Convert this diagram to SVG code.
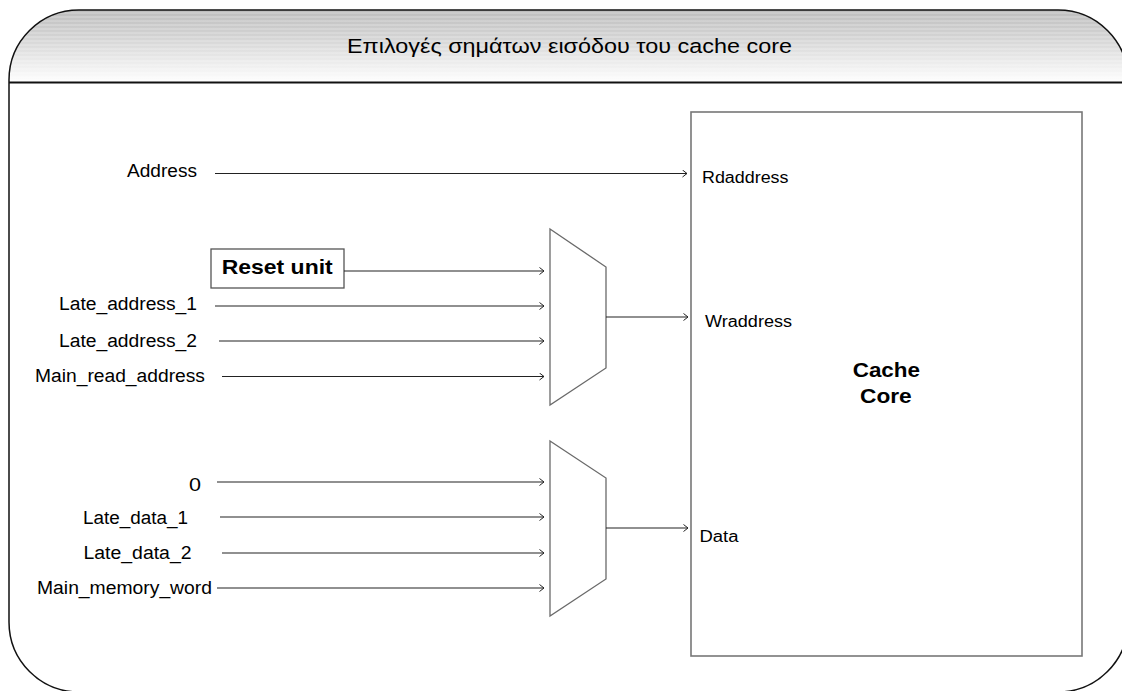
<svg xmlns="http://www.w3.org/2000/svg" width="1122" height="691" viewBox="0 0 1122 691">
  <defs>
    <linearGradient id="bandFill" x1="0" y1="0" x2="0" y2="1">
      <stop offset="0" stop-color="#bdbdbd"/>
      <stop offset="0.35" stop-color="#d2d2d2"/>
      <stop offset="0.7" stop-color="#eaeaea"/>
      <stop offset="1" stop-color="#fefefe"/>
    </linearGradient>
    <pattern id="bandStripes" width="8" height="4" patternUnits="userSpaceOnUse">
      <rect width="8" height="2" fill="#ffffff" opacity="0.18"/>
    </pattern>
    <clipPath id="frameClip">
      <rect x="9" y="10" width="1119" height="682" rx="70" ry="70"/>
    </clipPath>
    <marker id="arrow" markerWidth="8" markerHeight="9" refX="5" refY="4" orient="auto" markerUnits="userSpaceOnUse">
      <path d="M0.5,0.5 L5,4 L0.5,7.5" fill="none" stroke="#222" stroke-width="1"/>
    </marker>
    <style>
      .lbl { font-family: "Liberation Sans", Arial, sans-serif; font-size: 18px; fill: #000; }
      .pin { font-family: "Liberation Sans", Arial, sans-serif; font-size: 16px; fill: #000; }
      .bold { font-family: "Liberation Sans", Arial, sans-serif; font-size: 21px; font-weight: bold; fill: #000; }
      .wire { stroke: #222; stroke-width: 1.1; fill: none; marker-end: url(#arrow); }
      .mux { fill: #fff; stroke: #6a6a6a; stroke-width: 1.3; }
    </style>
  </defs>

  <!-- outer frame with shaded title band -->
  <g id="frame">
    <rect x="0" y="0" width="1122" height="691" fill="#fff"/>
    <g clip-path="url(#frameClip)">
      <rect x="0" y="10" width="1140" height="72" fill="url(#bandFill)"/>
      <rect x="0" y="10" width="1140" height="72" fill="url(#bandStripes)"/>
    </g>
    <rect x="9" y="10" width="1119" height="682" rx="70" ry="70" fill="none" stroke="#111" stroke-width="1.5"/>
    <line x1="9" y1="82.5" x2="1128" y2="82.5" stroke="#111" stroke-width="1.8"/>
    <text x="347" y="53" font-family="'Liberation Sans', Arial, sans-serif" font-size="20.5" fill="#000" textLength="445" lengthAdjust="spacingAndGlyphs">Επιλογές σημάτων εισόδου του cache core</text>
  </g>

  <!-- cache core block -->
  <g id="cache-core">
    <rect x="691" y="112" width="391" height="544" fill="#fff" stroke="#777" stroke-width="1.6"/>
    <text class="pin" x="702" y="182.5" textLength="86.5" lengthAdjust="spacingAndGlyphs">Rdaddress</text>
    <text class="pin" x="705" y="326.5" textLength="87" lengthAdjust="spacingAndGlyphs">Wraddress</text>
    <text class="pin" x="699.5" y="541.5" textLength="39" lengthAdjust="spacingAndGlyphs">Data</text>
    <text class="bold" x="852.7" y="377" textLength="67.3" lengthAdjust="spacingAndGlyphs">Cache</text>
    <text class="bold" x="860" y="403.3" textLength="51.7" lengthAdjust="spacingAndGlyphs">Core</text>
  </g>

  <!-- address input multiplexer -->
  <g id="mux-address">
    <polygon class="mux" points="550,229 606,267 606,368 550,405"/>
  </g>

  <!-- data input multiplexer -->
  <g id="mux-data">
    <polygon class="mux" points="550,441 606,478 606,579 550,616"/>
  </g>

  <!-- reset unit -->
  <g id="reset-unit">
    <rect x="211" y="249" width="133" height="39" fill="#fff" stroke="#555" stroke-width="1.3"/>
    <text class="bold" x="221.7" y="274.3" textLength="111" lengthAdjust="spacingAndGlyphs">Reset unit</text>
  </g>

  <!-- signal source labels -->
  <g id="sig-address"><text class="lbl" x="127" y="177" textLength="70" lengthAdjust="spacingAndGlyphs">Address</text></g>
  <g id="sig-late-address-1"><text class="lbl" x="59" y="309.5" textLength="138" lengthAdjust="spacingAndGlyphs">Late_address_1</text></g>
  <g id="sig-late-address-2"><text class="lbl" x="59" y="346.5" textLength="138" lengthAdjust="spacingAndGlyphs">Late_address_2</text></g>
  <g id="sig-main-read-address"><text class="lbl" x="35" y="381.5" textLength="170" lengthAdjust="spacingAndGlyphs">Main_read_address</text></g>
  <g id="sig-zero"><text class="lbl" x="189" y="491" font-size="20" textLength="12" lengthAdjust="spacingAndGlyphs">0</text></g>
  <g id="sig-late-data-1"><text class="lbl" x="83" y="524" textLength="105" lengthAdjust="spacingAndGlyphs">Late_data_1</text></g>
  <g id="sig-late-data-2"><text class="lbl" x="83.5" y="558.5" textLength="108" lengthAdjust="spacingAndGlyphs">Late_data_2</text></g>
  <g id="sig-main-memory-word"><text class="lbl" x="37" y="593.5" textLength="175" lengthAdjust="spacingAndGlyphs">Main_memory_word</text></g>

  <!-- connectors -->
  <g id="connectors">
    <line class="wire" x1="215" y1="173.5" x2="687" y2="173.5"/>
    <line class="wire" x1="344" y1="271" x2="544" y2="271"/>
    <line class="wire" x1="215" y1="306" x2="544" y2="306"/>
    <line class="wire" x1="219" y1="341" x2="544" y2="341"/>
    <line class="wire" x1="222" y1="376.5" x2="544" y2="376.5"/>
    <line class="wire" x1="606" y1="317" x2="688" y2="317"/>
    <line class="wire" x1="217" y1="482" x2="544" y2="482"/>
    <line class="wire" x1="220" y1="517" x2="544" y2="517"/>
    <line class="wire" x1="222" y1="553" x2="544" y2="553"/>
    <line class="wire" x1="217" y1="588" x2="544" y2="588"/>
    <line class="wire" x1="606" y1="528" x2="688" y2="528"/>
  </g>
</svg>
